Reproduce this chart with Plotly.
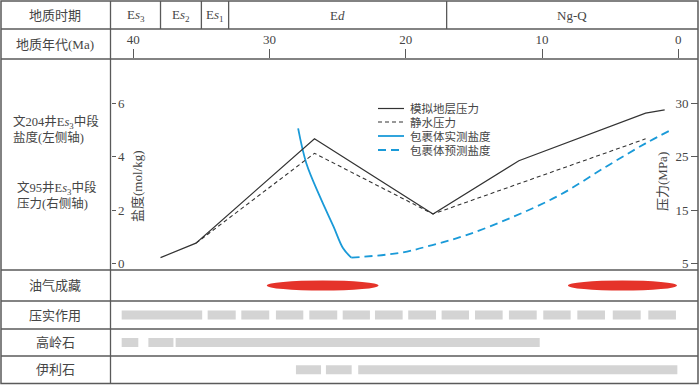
import plotly.graph_objects as go

W, H = 700, 385

# ---------------- data ----------------
period_labels = ["E<i>s</i><sub>3</sub>", "E<i>s</i><sub>2</sub>", "E<i>s</i><sub>1</sub>", "E<i>d</i>", "Ng-Q"]
period_bounds = [38, 35, 33, 17]          # Ma, boundaries between periods
age_ticks = [40, 30, 20, 10, 0]

# 模拟地层压力 (right axis)
sim_age = [38.0, 35.4, 26.7, 18.0, 11.7, 2.4, 1.0]
sim_p = [6.1, 8.8, 28.3, 14.25, 24.2, 33.1, 33.7]
# 静水压力 (right axis)
hyd_age = [35.4, 26.7, 18.0, 2.4]
hyd_p = [8.8, 25.6, 14.25, 28.3]
# 包裹体实测盐度 (left axis)
meas_age = [27.9, 27.3, 26.3, 25.3, 24.6, 24.0]
meas_s = [5.05, 3.75, 2.50, 1.38, 0.57, 0.22]
# 包裹体预测盐度 (left axis)
pred_age = [24.0, 20.4, 18.05, 15.5, 12.1, 8.7, 5.3, 2.4, 0.7]
pred_s = [0.22, 0.40, 0.69, 1.07, 1.75, 2.56, 3.62, 4.49, 4.95]

salinity_ticks = [0, 2, 4, 6]
pressure_tickvals = [5, 15, 25, 35]
pressure_ticktext = ["5", "15", "25", "30"]

# 油气成藏 windows (Ma)
accum = [(30.2, 22.0), (8.1, 0.1)]
# 压实作用
compaction = [(40.85, 34.94), (34.54, 32.48), (32.07, 30.02), (29.53, 27.52), (27.08, 25.03),
              (24.63, 22.63), (22.26, 20.23), (19.82, 17.78), (17.37, 15.36), (14.92, 12.89),
              (12.43, 10.39), (9.91, 7.90), (7.41, 5.38), (4.81, 2.76), (2.20, 0.17)]
# 高岭石
kaolinite = [(40.85, 39.63), (38.89, 37.05), (36.89, 10.17)]
# 伊利石
illite = [(28.06, 26.22), (25.86, 23.97), (23.49, 0.07)]

row_labels = ["油气成藏", "压实作用", "高岭石", "伊利石"]

# ---------------- layout helpers ----------------
FONT = "Liberation Serif, Noto Sans CJK SC, serif"
TXT = "#454545"
LINE = "#5a5a5a"
BLUE = "#1a9ad8"
DARK = "#333333"
GRAY = "#d4d4d4"
RED = "#e5332a"

def px(x):
    return x / W

def py(y):
    return 1 - y / H

X_L, X_R = 110.5, 698.0
Y_TOP, Y_H1, Y_H2, Y_CB = 1.0, 29.0, 59.0, 270.0
Y_PLOT_BOT = 280.0
row_edges = [270.0, 301.0, 329.0, 356.0, 383.5]

# axis ranges derived from pixel calibration (0 salinity at y=263.5, 26.75 px per unit)
age_left, age_right = 41.67, -1.446
s_lo, s_hi = (263.5 - Y_PLOT_BOT) / 26.75, (263.5 - Y_H2) / 26.75
p_lo, p_hi = 5 + 5 * s_lo, 5 + 5 * s_hi

fig = go.Figure()

fig.add_trace(go.Scatter(x=sim_age, y=sim_p, mode="lines", name="模拟地层压力",
                         line=dict(color=DARK, width=1.2), yaxis="y2", showlegend=False))
fig.add_trace(go.Scatter(x=hyd_age, y=hyd_p, mode="lines", name="静水压力",
                         line=dict(color=DARK, width=1.1, dash="4px,3px"), yaxis="y2", showlegend=False))
fig.add_trace(go.Scatter(x=meas_age, y=meas_s, mode="lines", name="包裹体实测盐度",
                         line=dict(color=BLUE, width=1.8, shape="spline"), yaxis="y", showlegend=False))
fig.add_trace(go.Scatter(x=pred_age, y=pred_s, mode="lines", name="包裹体预测盐度",
                         line=dict(color=BLUE, width=1.8, dash="8px,5px", shape="spline"), yaxis="y",
                         showlegend=False))

# bottom rows as bar traces
row_axes = ["y3", "y4", "y5", "y6"]
bar_rows = [None, compaction, kaolinite, illite]
for i, segs in enumerate(bar_rows):
    if segs is None:
        continue
    rh = row_edges[i + 1] - row_edges[i]
    fig.add_trace(go.Bar(orientation="h", y=[0] * len(segs),
                         base=[e for s, e in segs], x=[s - e for s, e in segs],
                         width=9.0 / rh, marker=dict(color=GRAY, line=dict(width=0)),
                         name=row_labels[i], xaxis="x", yaxis=row_axes[i], showlegend=False))

shapes = []
# ellipses for accumulation
for s, e in accum:
    shapes.append(dict(type="circle", xref="x", yref="y3", x0=e, x1=s, y0=-0.165, y1=0.165,
                       fillcolor=RED, line=dict(width=0)))

def hline(y, x0=1.0, x1=X_R, w=1.3):
    shapes.append(dict(type="line", xref="paper", yref="paper", x0=px(x0), x1=px(x1),
                       y0=py(y), y1=py(y), line=dict(color=LINE, width=w)))

def vline(x, y0, y1, w=1.3):
    shapes.append(dict(type="line", xref="paper", yref="paper", x0=px(x), x1=px(x),
                       y0=py(y0), y1=py(y1), line=dict(color=LINE, width=w)))

# outer frame
shapes.append(dict(type="rect", xref="paper", yref="paper", x0=px(1.0), x1=px(X_R),
                   y0=py(383.5), y1=py(1.0), line=dict(color=LINE, width=1.5)))
vline(X_L, 1.0, 383.5)
for y in [Y_H1, Y_H2, Y_CB] + row_edges[1:-1]:
    hline(y)
for b in period_bounds:
    shapes.append(dict(type="line", xref="x", yref="paper", x0=b, x1=b, y0=py(Y_H1), y1=py(Y_TOP),
                       line=dict(color=LINE, width=1.3)))

# manual legend
leg_names = ["模拟地层压力", "静水压力", "包裹体实测盐度", "包裹体预测盐度"]
leg_styles = [(DARK, 1.2, "solid"), (DARK, 1.1, "4px,3px"), (BLUE, 1.8, "solid"), (BLUE, 1.8, "8px,5px")]
leg_y = [108.5, 122.0, 136.0, 150.0]
annotations = []
for nm, (c, w, d), yy in zip(leg_names, leg_styles, leg_y):
    shapes.append(dict(type="line", xref="paper", yref="paper", x0=px(378), x1=px(404),
                       y0=py(yy), y1=py(yy), line=dict(color=c, width=w, dash=d)))
    annotations.append(dict(xref="paper", yref="paper", x=px(408), y=py(yy), text=nm,
                            showarrow=False, xanchor="left", yanchor="middle",
                            font=dict(family=FONT, size=11.5, color=TXT)))

def label(x, y, text, size=13, xanchor="center", align="center"):
    annotations.append(dict(xref="paper", yref="paper", x=px(x), y=py(y), text=text,
                            showarrow=False, xanchor=xanchor, yanchor="middle", align=align,
                            font=dict(family=FONT, size=size, color=TXT)))

label(55, 15, "地质时期")
label(55, 44, "地质年代(Ma)")
edges = [age_left] + period_bounds + [age_right]
for i, t in enumerate(period_labels):
    annotations.append(dict(xref="x", yref="paper", x=(edges[i] + edges[i + 1]) / 2, y=py(15),
                            text=t, showarrow=False, xanchor="center", yanchor="middle",
                            font=dict(family=FONT, size=13, color=TXT)))

label(11, 129, "文204井E<i>s</i><sub>3</sub>中段<br>盐度(左侧轴)", size=12.5, xanchor="left", align="left")
label(15, 196, "文95井E<i>s</i><sub>3</sub>中段<br>压力(右侧轴)", size=12.5, xanchor="left", align="left")

for i, t in enumerate(row_labels):
    label(55, (row_edges[i] + row_edges[i + 1]) / 2, t)

# axis titles as annotations (inside plot)
annotations.append(dict(xref="paper", yref="paper", x=px(138), y=py(186), text="盐度(mol/kg)",
                        textangle=-90, showarrow=False, xanchor="center", yanchor="middle",
                        font=dict(family=FONT, size=13, color=TXT)))
annotations.append(dict(xref="paper", yref="paper", x=px(663), y=py(182), text="压力(MPa)",
                        textangle=-90, showarrow=False, xanchor="center", yanchor="middle",
                        font=dict(family=FONT, size=13, color=TXT)))

def row_domain(i):
    return [py(row_edges[i + 1]), py(row_edges[i])]

axis_font = dict(family=FONT, size=13, color=TXT)
layout = dict(
    width=W, height=H, margin=dict(l=0, r=0, t=0, b=0),
    paper_bgcolor="white", plot_bgcolor="rgba(0,0,0,0)",
    showlegend=False, barmode="overlay",
    xaxis=dict(domain=[px(X_L), px(X_R)], range=[age_left, age_right], side="top",
               anchor="y", tickvals=age_ticks, ticks="outside", ticklen=9, tickwidth=1.2,
               tickcolor=LINE, tickfont=axis_font, showgrid=False, zeroline=False, showline=False),
    # left salinity axis: drawn as a "right-side" axis placed on the left frame line so that
    # the ticks and labels fall inside the plotting area as in the reference
    yaxis=dict(domain=[py(Y_PLOT_BOT), py(Y_H2)], range=[s_lo, s_hi], anchor="free",
               side="right", position=px(X_L),
               tickvals=salinity_ticks, ticks="outside", ticklen=4, tickcolor=LINE, tickwidth=1.2,
               tickfont=axis_font, showgrid=False, zeroline=False, showline=False),
    # right pressure axis: a "left-side" axis placed on the right frame line
    yaxis2=dict(domain=[py(Y_PLOT_BOT), py(Y_H2)], range=[p_lo, p_hi], anchor="free",
                overlaying="y", side="left", position=px(X_R),
                tickvals=pressure_tickvals, ticktext=pressure_ticktext,
                ticks="outside", ticklen=7, tickcolor=LINE, tickwidth=1.2,
                tickfont=axis_font, showgrid=False, zeroline=False, showline=False),
    shapes=shapes, annotations=annotations,
)
for i, ax in enumerate(["yaxis3", "yaxis4", "yaxis5", "yaxis6"]):
    layout[ax] = dict(domain=row_domain(i), range=[-0.5, 0.5], anchor="x", visible=False,
                      fixedrange=True)

fig.update_layout(**layout)
fig.write_html("out.html", config={"displayModeBar": False},
               post_script="document.body.style.margin='0px';document.body.style.overflow='hidden';")
